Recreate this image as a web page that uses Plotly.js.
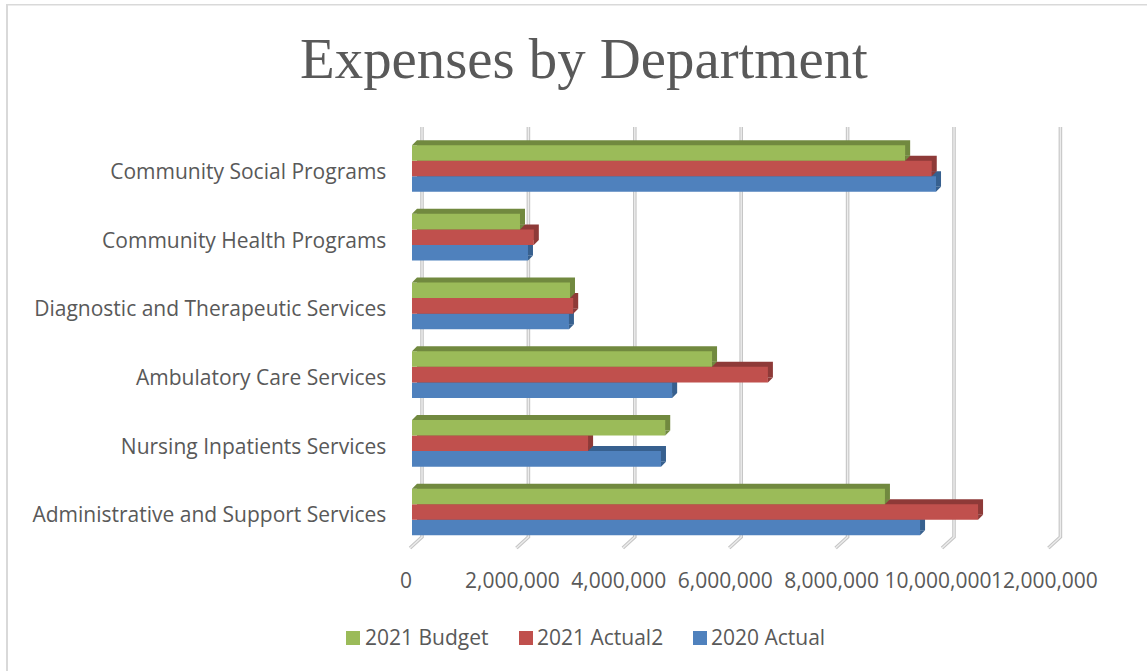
<!DOCTYPE html>
<html><head><meta charset="utf-8">
<script src="https://cdn.plot.ly/plotly-3.0.1.min.js"></script>
<style>html,body{margin:0;padding:0;background:#fff}#c{width:1147px;height:671px}</style>
</head><body><div id="c"></div>
<script>
const categories = ["Administrative and Support Services","Nursing Inpatients Services","Ambulatory Care Services","Diagnostic and Therapeutic Services","Community Health Programs","Community Social Programs"];
const actual2020 = [9550000,4680000,4890000,2950000,2180000,9850000];
const actual2021 = [10640000,3310000,6690000,3030000,2290000,9770000];
const budget2021 = [8890000,4760000,5640000,2970000,2030000,9270000];
const xTicks = [0,2000000,4000000,6000000,8000000,10000000,12000000];
const xTickText = ["0","2,000,000","4,000,000","6,000,000","8,000,000","10,000,000","12,000,000"];
const seriesNames = ["2020 Actual","2021 Actual2","2021 Budget"];
const seriesValues = [actual2020,actual2021,budget2021];
const frontColors = ["#4f81bd","#c0504d","#9bbb59"];
const sideColors = ["#37608f","#8e3a38","#71893f"];
const legendSwatchX = [693,519,346];
const legendTextX = [711,537,365];

const W=1147,H=671, D=5, pxPerUnit=53.2/1e6, catPx=68.7, x0Px=412, y0Px=512;
const range=[-200000,12200000], yr=[-0.65,5.55];
const xa=x0Px+range[0]*pxPerUnit, xb=x0Px+range[1]*pxPerUnit;
const yBot=y0Px-yr[0]*catPx, yTop=y0Px-yr[1]*catPx;
const idx = categories.map((_,i)=>i);
const gap = 0.32, bw=(1-gap)/3, hpx=bw*catPx/2;
const textColor='#595959', labelFont={family:'Open Sans',size:21,color:textColor};
const traces=[];
// extruded depth copy (base subplot, below)
seriesValues.forEach((v,s)=>traces.push({type:'bar',orientation:'h',y:idx,x:v,xaxis:'x',yaxis:'y',
  marker:{color:sideColors[s],line:{width:0}},showlegend:false,hoverinfo:'skip',offsetgroup:String(s)}));
// front faces
seriesValues.forEach((v,s)=>traces.push({type:'bar',orientation:'h',y:idx,x:v,xaxis:'x2',yaxis:'y2',name:seriesNames[s],
  marker:{color:frontColors[s],line:{width:0}},offsetgroup:String(s),showlegend:false}));

const shapes=[];
// back-wall gridlines with floor foot, anchored to the tick values of the base axis
xTicks.forEach(t=>{
  const common={type:'path',xref:'x',yref:'y',xsizemode:'pixel',ysizemode:'pixel',xanchor:t,yanchor:-0.5,layer:'below',
    path:'M-7,-6.6 L5,4.4 L5,414.4'};
  shapes.push(Object.assign({},common,{line:{color:'#c6c6c6',width:3.6}}));
  shapes.push(Object.assign({},common,{line:{color:'#ececec',width:1.4}}));
});
// diagonal corners of each extruded bar
seriesValues.forEach((v,s)=>v.forEach((val,i)=>{
  const yc=i+(s-1)*bw;
  const base={type:'path',xref:'x2',yref:'y2',xsizemode:'pixel',ysizemode:'pixel',yanchor:yc,layer:'above',line:{width:0},fillcolor:sideColors[s]};
  if(s===2) shapes.push(Object.assign({},base,{xanchor:0,path:`M0,${hpx} L${D},${hpx+D} L${D},${hpx} Z`}));
  shapes.push(Object.assign({},base,{xanchor:val,path:`M0,${-hpx} L${D},${-hpx+D} L0,${-hpx+D} Z`}));
}));
// chart frame
shapes.push({type:'rect',xref:'paper',yref:'paper',x0:6/W,x1:8/W,y0:0,y1:1-4/H,fillcolor:'#d9d9d9',line:{width:0},layer:'below'});
shapes.push({type:'rect',xref:'paper',yref:'paper',x0:6/W,x1:1,y0:1-5.5/H,y1:1-4/H,fillcolor:'#d9d9d9',line:{width:0},layer:'below'});
// legend
const annotations=[];
seriesNames.forEach((n,s)=>{
  shapes.push({type:'rect',xref:'paper',yref:'paper',x0:legendSwatchX[s]/W,x1:(legendSwatchX[s]+14)/W,y0:1-645/H,y1:1-631/H,fillcolor:frontColors[s],line:{width:0}});
  annotations.push({xref:'paper',yref:'paper',x:legendTextX[s]/W,y:1-637/H,xanchor:'left',yanchor:'middle',text:n,showarrow:false,font:labelFont,xshift:-2});
});

const noAxis={showgrid:false,zeroline:false,showline:false,ticks:'',showticklabels:false};
const layout={
  width:W,height:H,showlegend:false,paper_bgcolor:'#fff',plot_bgcolor:'rgba(0,0,0,0)',
  margin:{l:0,r:0,t:0,b:0},barmode:'group',bargap:gap,bargroupgap:0,
  title:{text:'Expenses by Department',font:{family:'Liberation Serif',size:56.8,color:textColor},x:584/W,xanchor:'center',y:1-58/H,yanchor:'middle'},
  font:{family:'Open Sans',color:textColor},
  xaxis:Object.assign({},noAxis,{range:range,domain:[(xa+D)/W,(xb+D)/W],anchor:'y'}),
  yaxis:Object.assign({},noAxis,{range:yr,domain:[1-(yBot-D)/H,1-(yTop-D)/H],anchor:'x'}),
  xaxis2:{range:range,domain:[xa/W,xb/W],anchor:'y2',showgrid:false,zeroline:false,showline:false,ticks:'',tickangle:0,
    tickvals:xTicks,ticktext:xTickText,tickfont:labelFont,ticklabelshift:-6,ticklabelstandoff:9},
  yaxis2:{range:yr,domain:[1-yBot/H,1-yTop/H],anchor:'x2',showgrid:false,zeroline:false,showline:false,ticks:'',
    tickvals:idx,ticktext:categories,tickfont:labelFont,ticklabelshift:3,ticklabelstandoff:14},
  shapes:shapes,annotations:annotations
};
Plotly.newPlot('c',traces,layout,{displayModeBar:false,responsive:false});
</script></body></html>
